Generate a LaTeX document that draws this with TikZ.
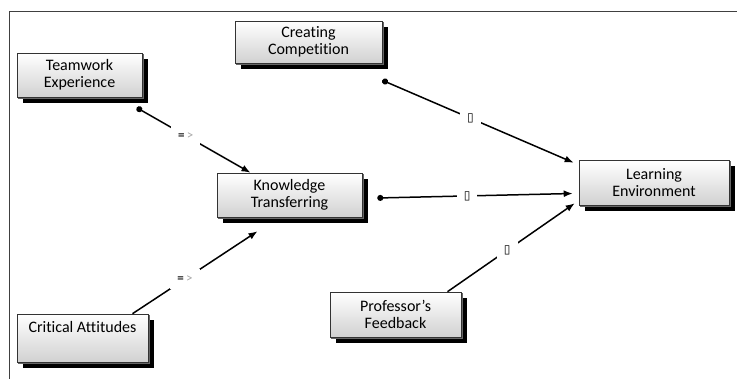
\documentclass[tikz,border=0pt]{standalone}
\usepackage{fontspec}
\setmainfont[Ligatures=NoCommon]{Carlito}
\newfontfamily\symfont{DejaVu Sans}
\usetikzlibrary{shadows, arrows.meta}
\tikzstyle{factor} = [rectangle, 
draw=black!80, 
line width=0.6pt, 
minimum height=44pt, 
align=center, 
inner sep=2pt, 
font=\fontsize{16}{17}\selectfont, 
top color=white, 
bottom color=black!18, 
drop shadow={shadow xshift=6pt, shadow yshift=-6pt, fill=black, opacity=1}, 
copy shadow={shadow xshift=1.5pt, shadow yshift=-1.5pt, fill=white, draw=black!60}]
\tikzstyle{link} = [line width=1.5pt, arrows={-Latex[length=9pt,width=7pt]}]
\tikzstyle{dotlink} = [line width=1.5pt, arrows={Circle[length=6pt,width=6pt]-Latex[length=9pt,width=7pt]}]
\tikzstyle{weight} = [fill=white, inner sep=7pt, font=\fontsize{13}{13}\selectfont]
\newcommand{\emptymark}{{\symfont\fontsize{12}{12}\selectfont ▯}}
\newcommand{\impliesmark}{\textbf{\textcolor{black!85}{=}}\textcolor{black!35}{\,>}}

\begin{document}
\begin{tikzpicture}[x=1pt, y=1pt, node distance=150pt]
        \useasboundingbox (0,0) rectangle (737,-379);
        \draw [black!75, line width=0.8pt] (737,-11) -- (9,-11) -- (9,-379);
        \node (know) [factor, minimum width=145pt] at (289.5,-195) {Knowledge\\Transferring};
        \node (team) [factor, minimum width=125pt, left of=know, xshift=-60pt, yshift=120pt] {Teamwork\\Experience};
        \node (crit) [factor, minimum width=131pt, minimum height=48pt, left of=know, xshift=-57pt, yshift=-143pt] {Critical Attitudes\\\strut};
        \node (learn) [factor, minimum width=150pt, minimum height=45pt, right of=know, xshift=214.5pt, yshift=12.5pt] {Learning\\Environment};
        \node (comp) [factor, minimum width=147pt, minimum height=42pt, above of=know, xshift=19pt, yshift=3pt] {Creating\\Competition};
        \node (prof) [factor, minimum width=131pt, minimum height=45pt, below of=know, xshift=106pt, yshift=30.5pt] {Professor’s\\Feedback};
        \draw [dotlink, shorten <=21pt] (team) -- node [weight, pos=0.51] {\impliesmark} (know);
        \draw [link] ([xshift=50pt]crit.north) -- node [weight, pos=0.42] {\impliesmark} ([xshift=-32pt, yshift=-14pt]know.south);
        \draw [dotlink] ([yshift=-17pt]comp.south east) -- node [weight, pos=0.46] {\emptymark} ([xshift=-5pt, yshift=-3pt]learn.north west);
        \draw [dotlink] ([xshift=15pt, yshift=-3pt]know.east) -- node [weight, pos=0.46] {\emptymark} ([xshift=-6pt, yshift=-11pt]learn.west);
        \draw [link] ([xshift=52pt]prof.north) -- node [weight, pos=0.47] {\emptymark} ([xshift=-4pt, yshift=2pt]learn.south west);
    \end{tikzpicture}
\end{document}
